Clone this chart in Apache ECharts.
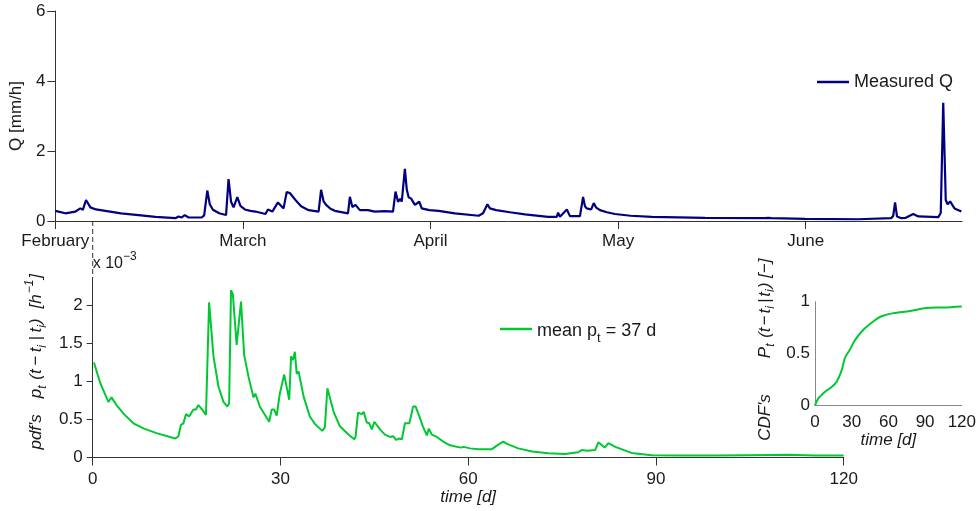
<!DOCTYPE html>
<html><head><meta charset="utf-8">
<script src="https://cdn.jsdelivr.net/npm/echarts@6/dist/echarts.min.js"></script>
<style>html,body{margin:0;padding:0;background:#fff}#c{width:979px;height:511px}</style>
</head><body><div id="c"></div>
<script>
// ---- data ----
const monthLabels = ['February', 'March', 'April', 'May', 'June'];
const monthTickDays = [0, 30, 60, 90, 120];
const qDays = [0,1.6,3.2,4.0,4.4,4.9,5.6,6.5,8.0,10.5,13.3,16.0,19.2,19.7,20.2,20.7,21.3,23.4,23.8,24.3,24.7,25.2,26.2,27.3,27.7,28.1,28.5,29.1,29.6,30.3,31.2,32.0,33.6,34.0,34.7,35.6,36.5,37.0,37.5,38.4,39.3,40.5,42.1,42.5,42.9,43.3,44.0,44.7,46.8,47.1,47.5,48.0,48.7,50.0,51.1,52.7,54.0,54.4,54.8,55.2,55.4,55.9,56.2,56.5,56.9,57.5,58.2,58.6,59.8,61.3,63.9,67.7,68.4,69.1,69.5,70.5,72.7,75.1,78.8,80.2,80.4,80.7,81.8,82.3,83.9,84.4,84.7,85.0,85.7,86.1,86.5,87.1,88.2,89.5,92.0,95.4,103.9,113.5,114.0,114.5,119.9,128.4,133.7,134.0,134.3,134.6,135.3,136.0,137.2,138.0,141.2,141.6,142.0,142.4,142.7,143.1,143.8,144.9];
const qVals = [0.29,0.22,0.27,0.36,0.32,0.60,0.39,0.33,0.29,0.22,0.17,0.12,0.08,0.13,0.10,0.17,0.10,0.10,0.16,0.87,0.48,0.32,0.22,0.17,1.20,0.55,0.39,0.68,0.43,0.33,0.29,0.27,0.20,0.33,0.27,0.53,0.36,0.83,0.80,0.60,0.42,0.31,0.27,0.89,0.56,0.46,0.35,0.29,0.22,0.69,0.40,0.46,0.31,0.31,0.27,0.28,0.27,0.84,0.55,0.64,0.55,1.49,0.90,0.68,0.64,0.46,0.55,0.36,0.31,0.29,0.22,0.15,0.22,0.48,0.36,0.31,0.25,0.19,0.12,0.12,0.24,0.12,0.33,0.14,0.14,0.69,0.42,0.36,0.33,0.51,0.38,0.31,0.25,0.20,0.15,0.12,0.09,0.08,0.09,0.08,0.06,0.05,0.08,0.15,0.53,0.13,0.08,0.09,0.20,0.13,0.11,0.23,3.38,0.60,0.48,0.56,0.36,0.27];
const pdfDays = [0.2,1.2,2.5,3.0,3.8,5.0,6.5,8.2,10.2,13.2,13.7,14.1,14.5,14.9,15.4,16.1,16.5,16.9,17.4,18.1,18.6,19.3,20.1,20.9,21.5,21.8,22.1,22.4,23.0,23.7,24.2,24.9,25.7,26.0,26.7,28.2,28.6,29.0,29.4,29.9,30.6,31.4,31.7,32.0,32.3,32.6,32.9,33.7,34.7,35.5,36.7,37.1,37.5,37.7,38.5,39.5,40.9,41.8,42.0,42.4,42.7,43.0,43.3,43.8,44.2,44.6,45.0,46.0,46.7,47.5,48.0,48.5,48.9,49.4,49.9,50.2,50.6,51.2,51.6,52.2,52.8,53.4,53.7,54.2,55.0,56.0,57.1,58.2,58.8,59.3,60.3,61.6,63.8,64.8,65.6,66.2,68.0,70.2,72.8,75.5,76.6,77.6,78.2,79.0,80.3,80.8,81.8,82.4,83.5,86.1,89.3,94.1,99.4,104.8,111.2,115.4,120];
const pdfVals = [1.25,0.98,0.73,0.79,0.69,0.57,0.45,0.38,0.32,0.25,0.28,0.43,0.45,0.57,0.54,0.63,0.63,0.69,0.64,0.56,2.04,1.33,0.93,0.73,0.67,0.71,2.20,2.14,1.48,2.05,1.35,1.06,0.79,0.84,0.67,0.47,0.63,0.63,0.55,0.84,1.09,0.76,1.33,1.28,1.39,1.10,1.13,0.80,0.54,0.44,0.35,0.40,0.91,0.93,0.60,0.41,0.30,0.24,0.27,0.59,0.60,0.57,0.60,0.46,0.45,0.37,0.47,0.36,0.30,0.27,0.28,0.23,0.25,0.24,0.45,0.47,0.45,0.67,0.67,0.54,0.40,0.29,0.38,0.30,0.27,0.21,0.16,0.14,0.13,0.14,0.12,0.11,0.11,0.17,0.21,0.18,0.12,0.08,0.055,0.046,0.06,0.07,0.10,0.09,0.10,0.20,0.13,0.19,0.14,0.06,0.03,0.025,0.025,0.03,0.035,0.025,0.025];
const cdfDays = [0,2.7,8.2,13.6,17.7,21.8,24.5,28.6,32.7,39.5,47.6,54.4,64,77.6,91.2,104.8,120];
const cdfVals = [0,0.07,0.135,0.18,0.23,0.34,0.46,0.54,0.63,0.73,0.81,0.86,0.89,0.91,0.94,0.945,0.955];
const pdfYTicks = [0, 0.5, 1, 1.5, 2];
const pdfXTicks = [0, 30, 60, 90, 120];
const cdfXTicks = [0, 30, 60, 90, 120];
const cdfYTicks = [0, 0.5, 1];

// ---- chart ----
const FONT = '"Liberation Sans", Arial, sans-serif';
const zip = (a, b) => a.map((v, i) => [v, b[i]]);
const AX = '#333';
const TXT = '#1a1a1a';
const FS = 17;
const chart = echarts.init(document.getElementById('c'), null, {renderer: 'canvas'});
const lbl = (extra) => Object.assign({color: TXT, fontSize: FS, fontFamily: FONT}, extra || {});
const PDF_MAX = 2.36;

const base = {fontStyle: 'italic', fontFamily: FONT, color: TXT, verticalAlign: 'top'};
const nameRich = {
  n: Object.assign({fontSize: FS, lineHeight: 17, padding: [5, 0, 0, 0]}, base),
  m: Object.assign({fontSize: FS, lineHeight: 17, padding: [5, 2, 0, 2]}, base),
  k: Object.assign({fontSize: FS, lineHeight: 17, padding: [5, 3.5, 0, 3.5]}, base),
  s: Object.assign({fontSize: 12, lineHeight: 12, padding: [13, 1, 0, 0]}, base),
  u: Object.assign({fontSize: 12, lineHeight: 12, padding: [0, 1, 0, 1]}, base),
  g1: Object.assign({fontSize: FS, lineHeight: 17, padding: [5, 0, 0, 0], width: 12}, base),
  w1: Object.assign({fontSize: FS, lineHeight: 17, padding: [5, 0, 0, 0], width: 16}, base),
  w2: Object.assign({fontSize: FS, lineHeight: 17, padding: [5, 0, 0, 0], width: 10}, base),
  g2: Object.assign({fontSize: FS, lineHeight: 17, padding: [5, 0, 0, 0], width: 8}, base),
  w3: Object.assign({fontSize: FS, lineHeight: 17, padding: [5, 0, 0, 0], width: 36}, base)
};

const option = {
  animation: false,
  backgroundColor: '#fff',
  textStyle: {fontFamily: FONT},
  grid: [
    {left: 55, top: 11, width: 907, height: 210},
    {left: 92.7, top: 278, width: 751, height: 179.5},
    {left: 815, top: 301.7, width: 147, height: 104}
  ],
  xAxis: [
    {type: 'value', gridIndex: 0, min: 0, max: 145, interval: 30,
     axisLine: {lineStyle: {color: AX, width: 1}},
     axisTick: {show: true, length: 8, lineStyle: {color: AX}, customValues: monthTickDays},
     axisLabel: lbl({margin: 12, customValues: monthTickDays, formatter: v => monthLabels[monthTickDays.indexOf(v)] || ''}),
     splitLine: {show: false}},
    {type: 'value', gridIndex: 1, min: 0, max: 120, interval: 30,
     axisLine: {lineStyle: {color: AX}},
     axisTick: {show: true, length: 8, lineStyle: {color: AX}, customValues: pdfXTicks},
     axisLabel: lbl({margin: 13, customValues: pdfXTicks}),
     splitLine: {show: false},
     name: 'time [d]', nameLocation: 'middle', nameGap: 30,
     nameTextStyle: lbl({fontStyle: 'italic'})},
    {type: 'value', gridIndex: 2, min: 0, max: 120, interval: 30,
     axisLine: {lineStyle: {color: '#888'}},
     axisTick: {show: false},
     axisLabel: lbl({margin: 8, customValues: cdfXTicks}),
     splitLine: {show: false},
     name: 'time [d]', nameLocation: 'middle', nameGap: 24,
     nameTextStyle: lbl({fontStyle: 'italic'})}
  ],
  yAxis: [
    {type: 'value', gridIndex: 0, min: 0, max: 6, interval: 2,
     axisLine: {show: true, lineStyle: {color: AX}},
     axisTick: {show: true, length: 8, lineStyle: {color: AX}},
     axisLabel: lbl({margin: 10}),
     splitLine: {show: false},
     name: 'Q [mm/h]', nameLocation: 'middle', nameRotate: 90, nameGap: 27,
     nameTextStyle: lbl()},
    {type: 'value', gridIndex: 1, min: 0, max: PDF_MAX, interval: 0.5,
     axisLine: {show: true, lineStyle: {color: AX}},
     axisTick: {show: true, length: 6, lineStyle: {color: AX}, customValues: pdfYTicks},
     axisLabel: lbl({margin: 10, customValues: pdfYTicks}),
     splitLine: {show: false},
     name: "{g1| }{n|pdf's}{w1| }{n|p}{s|t}{n| (t}{k|−}{n|t}{s|i}{k||}{n|t}{s|i}{n|)}{w2| }{n|[h}{u|−1}{n|]}",
     nameLocation: 'middle', nameRotate: 90, nameGap: 42,
     nameTextStyle: {rich: nameRich}},
    {type: 'value', gridIndex: 2, min: 0, max: 1, interval: 0.5,
     axisLine: {show: true, lineStyle: {color: '#888'}},
     axisTick: {show: false},
     axisLabel: lbl({margin: 5, customValues: cdfYTicks}),
     splitLine: {show: false},
     name: "{g2| }{n|CDF's}{w3| }{n|P}{s|t}{n| (t}{m|−}{n|t}{s|i}{m||}{n|t}{s|i}{n|) [−]}",
     nameLocation: 'middle', nameRotate: 90, nameGap: 46,
     nameTextStyle: {rich: nameRich}}
  ],
  legend: [
    {data: ['Measured Q'], left: 817, top: 73, padding: 0, icon: 'rect', itemWidth: 32, itemHeight: 2.5,
     textStyle: lbl({fontSize: 18}), selectedMode: false},
    {data: ['pdf'], left: 500, top: 320, padding: 0, icon: 'rect', itemWidth: 32, itemHeight: 2.5, selectedMode: false,
     formatter: () => '{n|mean p}{s|t}{n| = 37 d}',
     textStyle: {rich: {
       n: {fontSize: 18, fontFamily: FONT, color: TXT, lineHeight: 18, padding: [2, 0, 0, 0], verticalAlign: 'top'},
       s: {fontSize: 13, fontFamily: FONT, color: TXT, lineHeight: 13, padding: [12, 0, 0, 0], verticalAlign: 'top'}
     }}}
  ],
  series: [
    {name: 'Measured Q', type: 'line', xAxisIndex: 0, yAxisIndex: 0, data: zip(qDays, qVals),
     showSymbol: false, symbol: 'none', lineStyle: {color: '#000080', width: 2.2}, itemStyle: {color: '#000080'}},
    {name: 'pdf', type: 'line', xAxisIndex: 1, yAxisIndex: 1, data: zip(pdfDays, pdfVals),
     showSymbol: false, symbol: 'none', lineStyle: {color: '#00c832', width: 2}, itemStyle: {color: '#00c832'}},
    {name: 'cdf', type: 'line', xAxisIndex: 2, yAxisIndex: 2, data: zip(cdfDays, cdfVals), smooth: 0.3,
     showSymbol: false, symbol: 'none', lineStyle: {color: '#00c832', width: 2}, itemStyle: {color: '#00c832'}}
  ]
};
chart.setOption(option);

const x0 = chart.convertToPixel({xAxisIndex: 1}, 0);
const yTopAxis = chart.convertToPixel({yAxisIndex: 0}, 0);
const yPdfTop = chart.convertToPixel({yAxisIndex: 1}, PDF_MAX);
chart.setOption({graphic: [
  {type: 'line', shape: {x1: x0, y1: yTopAxis, x2: x0, y2: yPdfTop},
   style: {stroke: AX, lineWidth: 1, lineDash: [5, 3]}, silent: true},
  {type: 'text', x: x0, y: 251,
   style: {text: '{a|x 10}{b|−3}', rich: {
     a: {fontSize: 16, fontFamily: FONT, fill: TXT, lineHeight: 16, padding: [5, 0, 0, 0], verticalAlign: 'top'},
     b: {fontSize: 12, fontFamily: FONT, fill: TXT, lineHeight: 12, verticalAlign: 'top'}
   }}, silent: true}
]});
</script></body></html>
